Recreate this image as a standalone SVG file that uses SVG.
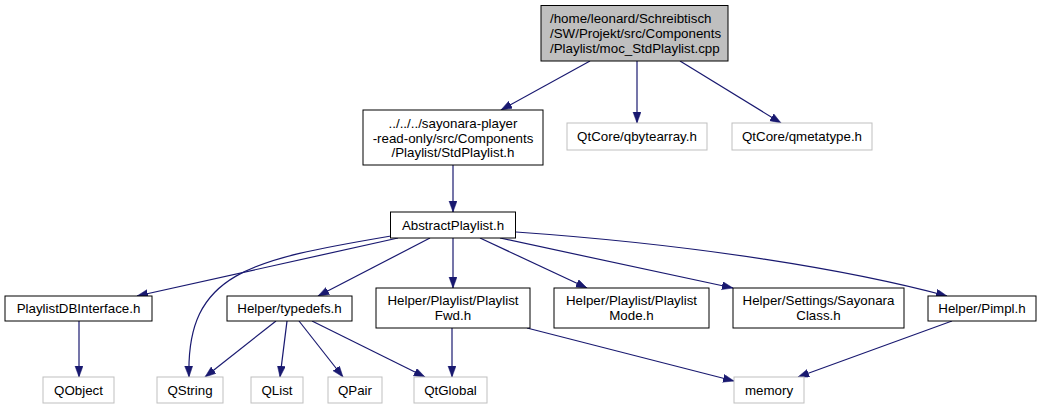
<svg xmlns="http://www.w3.org/2000/svg" width="1042" height="409" viewBox="0 0 1042 409">
<style>
text{font-family:"Liberation Sans",Arial,sans-serif;font-size:13.33px;fill:#000}
.c{text-anchor:middle}
.n rect{fill:#fff;stroke:#000;stroke-width:1}
.g rect{fill:#fff;stroke:#bfbfbf;stroke-width:1}
.e path{fill:none;stroke:#191970;stroke-width:1.2;marker-end:url(#ah)}
</style>
<defs>
<marker id="ah" markerUnits="userSpaceOnUse" markerWidth="12" markerHeight="9" refX="11" refY="4" orient="auto">
<path d="M0,0 L11,4 L0,8 z" fill="#191970" stroke="#191970" stroke-width="0.5"/>
</marker>
</defs>
<rect width="1042" height="409" fill="#fff"/>
<g id="edges" class="e">
<path d="M590,61 L501,110"/>
<path d="M637,61 L637,123"/>
<path d="M680,61 L781,123"/>
<path d="M453,165 L453,212"/>
<path d="M398,238 L137,296"/>
<path d="M391,236 C250,260 186,272 189,377"/>
<path d="M430,238 L318,296"/>
<path d="M453,238 L453,288"/>
<path d="M480,238 L587,288"/>
<path d="M500,238 L733,288"/>
<path d="M516,232 C700,245 850,270 947,296"/>
<path d="M276,321 L205,377"/>
<path d="M287,321 L280,377"/>
<path d="M299,321 L343,377"/>
<path d="M312,321 L425,377"/>
<path d="M452,328 L452,377"/>
<path d="M527,328 L734,381"/>
<path d="M952,321 L798,377"/>
<path d="M79,321 L79,377"/>
</g>
<g id="root" class="n">
<rect x="541" y="5.5" width="187" height="55.5" style="fill:#bfbfbf"/>
<text x="550" y="23">/home/leonard/Schreibtisch</text>
<text x="550" y="38">/SW/Projekt/src/Components</text>
<text x="550" y="52.5">/Playlist/moc_StdPlaylist.cpp</text>
</g>
<g id="stdplaylist" class="n">
<rect x="363" y="110" width="180" height="55"/>
<text class="c" x="453" y="128">../../../sayonara-player</text>
<text class="c" x="453" y="142.5">-read-only/src/Components</text>
<text class="c" x="453" y="157">/Playlist/StdPlaylist.h</text>
</g>
<g id="qbytearray" class="g">
<rect x="567" y="123" width="140" height="27"/>
<text class="c" x="637" y="141">QtCore/qbytearray.h</text>
</g>
<g id="qmetatype" class="g">
<rect x="732" y="123" width="140" height="27"/>
<text class="c" x="802" y="141">QtCore/qmetatype.h</text>
</g>
<g id="abstractplaylist" class="n">
<rect x="390.5" y="212" width="125" height="26"/>
<text class="c" x="453" y="230">AbstractPlaylist.h</text>
</g>
<g id="playlistdbinterface" class="n">
<rect x="5" y="296" width="147" height="25"/>
<text class="c" x="78.5" y="313">PlaylistDBInterface.h</text>
</g>
<g id="typedefs" class="n">
<rect x="227" y="296" width="125" height="25"/>
<text class="c" x="289.5" y="313">Helper/typedefs.h</text>
</g>
<g id="playlistfwd" class="n">
<rect x="376" y="288" width="154" height="40"/>
<text class="c" x="453" y="304.5">Helper/Playlist/Playlist</text>
<text class="c" x="453" y="319.5">Fwd.h</text>
</g>
<g id="playlistmode" class="n">
<rect x="554" y="288" width="155" height="40"/>
<text class="c" x="631.5" y="304.5">Helper/Playlist/Playlist</text>
<text class="c" x="631.5" y="319.5">Mode.h</text>
</g>
<g id="sayonaraclass" class="n">
<rect x="733" y="288" width="171" height="40"/>
<text class="c" x="818.5" y="304.5">Helper/Settings/Sayonara</text>
<text class="c" x="818.5" y="319.5">Class.h</text>
</g>
<g id="pimpl" class="n">
<rect x="928" y="296" width="108" height="25"/>
<text class="c" x="982" y="313">Helper/Pimpl.h</text>
</g>
<g id="qobject" class="g">
<rect x="43" y="377" width="71" height="26"/>
<text class="c" x="78.5" y="395">QObject</text>
</g>
<g id="qstring" class="g">
<rect x="157" y="377" width="66" height="26"/>
<text class="c" x="190" y="395">QString</text>
</g>
<g id="qlist" class="g">
<rect x="251" y="377" width="52" height="26"/>
<text class="c" x="277" y="395">QList</text>
</g>
<g id="qpair" class="g">
<rect x="328" y="377" width="54" height="26"/>
<text class="c" x="355" y="395">QPair</text>
</g>
<g id="qtglobal" class="g">
<rect x="414" y="377" width="73" height="26"/>
<text class="c" x="450.5" y="395">QtGlobal</text>
</g>
<g id="memory" class="g">
<rect x="734" y="377" width="70" height="26"/>
<text class="c" x="769" y="395">memory</text>
</g>
</svg>
